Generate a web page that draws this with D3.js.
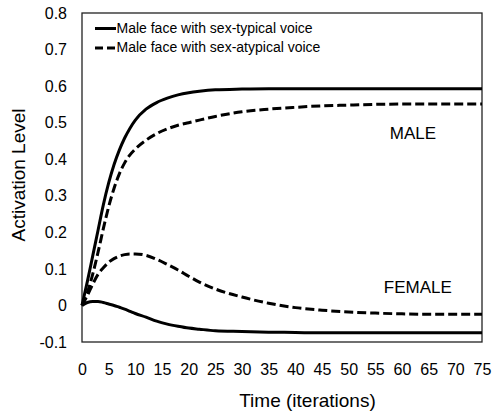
<!DOCTYPE html>
<html>
<head>
<meta charset="utf-8">
<script src="https://d3js.org/d3.v7.min.js"></script>
<style>
  body { margin: 0; background: #fff; }
  text { font-family: "Liberation Sans", Arial, sans-serif; fill: #000; }
</style>
</head>
<body>
<svg id="chart"></svg>
<script>
const width = 493;
const height = 413;

// iterations at which the curves were read
const times = [0, 1, 2, 3, 4, 5, 6, 7, 8, 9, 10, 12, 14, 16, 18, 20, 22, 25, 30, 35, 40, 45, 50, 55, 60, 65, 70, 75];

// male face, sex-typical voice (solid)
const maleTypical = [0, 0.065, 0.135, 0.205, 0.275, 0.335, 0.385, 0.425, 0.458, 0.485, 0.507, 0.537, 0.555, 0.567, 0.576, 0.582, 0.586, 0.59, 0.592, 0.593, 0.593, 0.593, 0.593, 0.593, 0.593, 0.593, 0.593, 0.593];
const femaleTypical = [0, 0.008, 0.011, 0.011, 0.008, 0.004, 0, -0.005, -0.01, -0.016, -0.022, -0.032, -0.043, -0.051, -0.057, -0.062, -0.065, -0.069, -0.071, -0.073, -0.074, -0.075, -0.075, -0.075, -0.075, -0.075, -0.075, -0.075];

// male face, sex-atypical voice (dashed)
const maleAtypical = [0, 0.035, 0.085, 0.145, 0.21, 0.27, 0.32, 0.36, 0.39, 0.412, 0.428, 0.452, 0.47, 0.483, 0.493, 0.5, 0.507, 0.517, 0.53, 0.537, 0.542, 0.546, 0.548, 0.55, 0.551, 0.551, 0.551, 0.551];
const femaleAtypical = [0, 0.027, 0.058, 0.085, 0.103, 0.118, 0.128, 0.135, 0.139, 0.141, 0.141, 0.137, 0.126, 0.112, 0.097, 0.08, 0.064, 0.045, 0.023, 0.006, -0.006, -0.013, -0.018, -0.021, -0.023, -0.024, -0.024, -0.024];

const xTicks = d3.range(0, 76, 5);
const yTicks = [-0.1, 0, 0.1, 0.2, 0.3, 0.4, 0.5, 0.6, 0.7, 0.8];
const legendLabels = ["Male face with sex-typical voice", "Male face with sex-atypical voice"];

const margin = {top: 13, right: 11, bottom: 71, left: 82};

const svg = d3.select("#chart")
  .attr("width", width)
  .attr("height", height);

const x = d3.scaleLinear().domain([0, 75]).range([margin.left, width - margin.right]);
const y = d3.scaleLinear().domain([-0.1, 0.8]).range([height - margin.bottom, margin.top]);

// tick labels (no tick marks in the original)
svg.append("g")
  .attr("transform", `translate(0,${height - margin.bottom})`)
  .call(d3.axisBottom(x).tickValues(xTicks).tickSize(0).tickPadding(22))
  .call(g => g.select(".domain").remove())
  .selectAll("text")
  .style("font-size", "16px")
  .style("font-family", "Liberation Sans, Arial, sans-serif");

svg.append("g")
  .attr("transform", `translate(${margin.left},0)`)
  .call(d3.axisLeft(y).tickValues(yTicks).tickSize(0).tickPadding(15)
    .tickFormat(d => d === 0 ? "0" : d.toFixed(1)))
  .call(g => g.select(".domain").remove())
  .selectAll("text")
  .style("font-size", "16px")
  .style("font-family", "Liberation Sans, Arial, sans-serif");

// plot frame
svg.append("rect")
  .attr("x", margin.left)
  .attr("y", margin.top)
  .attr("width", width - margin.right - margin.left)
  .attr("height", height - margin.bottom - margin.top)
  .attr("fill", "none")
  .attr("stroke", "#222")
  .attr("stroke-width", 1.3);

const line = d3.line()
  .x((d, i) => x(times[i]))
  .y(d => y(d))
  .curve(d3.curveMonotoneX);

const series = [
  {values: maleTypical, dash: null},
  {values: femaleTypical, dash: null},
  {values: maleAtypical, dash: "9,4"},
  {values: femaleAtypical, dash: "9,4"}
];

svg.append("g")
  .selectAll("path")
  .data(series)
  .enter().append("path")
  .attr("d", d => line(d.values))
  .attr("fill", "none")
  .attr("stroke", "#000")
  .attr("stroke-width", 3)
  .attr("stroke-dasharray", d => d.dash);

// legend
const legend = svg.append("g");
legendLabels.forEach((label, i) => {
  const ly = 28.5 + i * 19.5;
  legend.append("line")
    .attr("x1", 95).attr("x2", 116)
    .attr("y1", ly).attr("y2", ly)
    .attr("stroke", "#000")
    .attr("stroke-width", 3)
    .attr("stroke-dasharray", i === 1 ? "8,4" : null);
  legend.append("text")
    .attr("x", 116.5)
    .attr("y", ly + 4)
    .style("font-size", "14px")
    .text(label);
});

// in-plot labels
svg.append("text")
  .attr("x", x(57.7))
  .attr("y", 139)
  .style("font-size", "17px")
  .text("MALE");

svg.append("text")
  .attr("x", x(56.6))
  .attr("y", 292.5)
  .style("font-size", "17px")
  .text("FEMALE");

// axis titles
svg.append("text")
  .attr("x", 307.5)
  .attr("y", 406.5)
  .attr("text-anchor", "middle")
  .style("font-size", "19px")
  .text("Time (iterations)");

svg.append("text")
  .attr("transform", "translate(25,175) rotate(-90)")
  .attr("text-anchor", "middle")
  .style("font-size", "19px")
  .text("Activation Level");
</script>
</body>
</html>
